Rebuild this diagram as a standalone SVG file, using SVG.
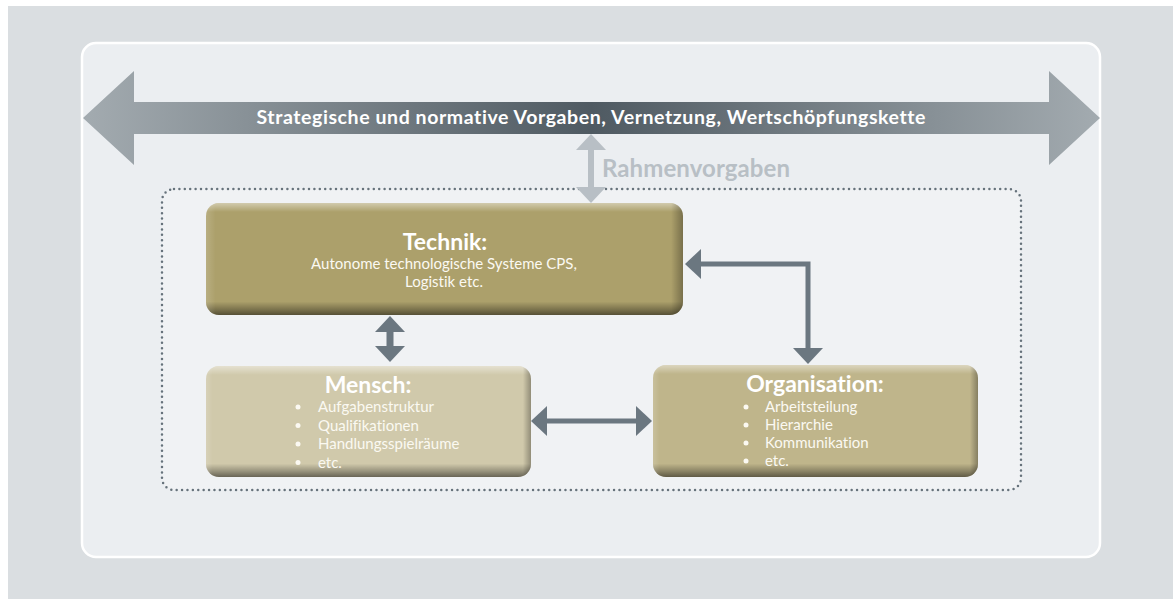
<svg xmlns="http://www.w3.org/2000/svg" width="1173" height="599" viewBox="0 0 1173 599">
  <defs>
    <style>
      text { font-variant-ligatures: none; font-feature-settings: "liga" 0, "dlig" 0; }
      .bg { fill: #dadee1; }
      .panel { fill: #ebeef1; stroke: #ffffff; stroke-width: 2.5; }
      .dotted { fill: #f0f2f4; stroke: #66727b; stroke-width: 2.5; stroke-dasharray: 0 5.4; stroke-linecap: round; }
      .box-bevel { fill: url(#bevelV); }
      .box-side { fill: url(#bevelH); }
      .t-main { font-family: Lato, "Open Sans", sans-serif; font-weight: 700; font-size: 19.5px; fill: #ffffff; text-anchor: middle; }
      .t-rahmen { font-family: Lato, "Open Sans", sans-serif; font-weight: 700; font-size: 24px; fill: #b8bfc5; }
      .t-title { font-family: Lato, "Open Sans", sans-serif; font-weight: 700; font-size: 23px; fill: #ffffff; text-anchor: middle; }
      .t-body { font-family: Lato, "Open Sans", sans-serif; font-weight: 400; font-size: 15px; fill: #fbf9f2; }
      .t-center { text-anchor: middle; }
      .bullet { fill: #fbf9f2; }
      .conn { fill: none; stroke: #6b7780; stroke-width: 5; }
      .conn-light { fill: none; stroke: #b8bfc5; stroke-width: 6; }
    </style>
    <linearGradient id="bigArrow" gradientUnits="userSpaceOnUse" x1="83" y1="0" x2="1100" y2="0">
      <stop offset="0" stop-color="#a3abb0"/>
      <stop offset="0.5" stop-color="#4f5a62"/>
      <stop offset="1" stop-color="#a3abb0"/>
    </linearGradient>
    <linearGradient id="bevelV" x1="0" y1="0" x2="0" y2="1">
      <stop offset="0" stop-color="#ffffff" stop-opacity="0.45"/>
      <stop offset="0.08" stop-color="#ffffff" stop-opacity="0"/>
      <stop offset="0.88" stop-color="#000000" stop-opacity="0"/>
      <stop offset="0.95" stop-color="#000000" stop-opacity="0.28"/>
      <stop offset="1" stop-color="#000000" stop-opacity="0.5"/>
    </linearGradient>
    <linearGradient id="bevelH" x1="0" y1="0" x2="1" y2="0">
      <stop offset="0" stop-color="#ffffff" stop-opacity="0.15"/>
      <stop offset="0.02" stop-color="#ffffff" stop-opacity="0"/>
      <stop offset="0.975" stop-color="#000000" stop-opacity="0"/>
      <stop offset="1" stop-color="#000000" stop-opacity="0.3"/>
    </linearGradient>
    <marker id="headDark" markerUnits="userSpaceOnUse" markerWidth="16" markerHeight="30" refX="0" refY="15" orient="auto-start-reverse" viewBox="0 0 16 30">
      <path d="M0,0 L16,15 L0,30 Z" fill="#6b7780"/>
    </marker>
    <marker id="headLight" markerUnits="userSpaceOnUse" markerWidth="16" markerHeight="30" refX="0" refY="15" orient="auto-start-reverse" viewBox="0 0 16 30">
      <path d="M0,0 L16,15 L0,30 Z" fill="#b8bfc5"/>
    </marker>
  </defs>

  <rect class="bg" x="8" y="6" width="1165" height="593"/>
  <rect class="panel" x="82" y="43" width="1018" height="514" rx="14"/>
  <rect class="dotted" x="162" y="189" width="859" height="301" rx="12"/>

  <g id="big-arrow">
    <polygon points="83,118 134,71 134,102 1049,102 1049,71 1100,118 1049,165 1049,134 134,134 134,165" fill="url(#bigArrow)"/>
    <text class="t-main" x="591" y="124" textLength="669" lengthAdjust="spacing">Strategische und normative Vorgaben, Vernetzung, Wertschöpfungskette</text>
  </g>

  <g id="connectors">
    <path class="conn-light" d="M591,150 V187" marker-start="url(#headLight)" marker-end="url(#headLight)"/>
    <path class="conn" style="stroke-width:7" d="M390,332 V346" marker-start="url(#headDark)" marker-end="url(#headDark)"/>
    <path class="conn" d="M701,264 H808 V348" marker-start="url(#headDark)" marker-end="url(#headDark)"/>
    <path class="conn" d="M547,421 H636" marker-start="url(#headDark)" marker-end="url(#headDark)"/>
  </g>

  <g id="label-rahmen">
    <text class="t-rahmen" x="602" y="177" textLength="188" lengthAdjust="spacing">Rahmenvorgaben</text>
  </g>

  <g id="node-technik">
    <rect x="206" y="203" width="477" height="112" rx="13" fill="#aca06b"/>
    <rect class="box-bevel" x="206" y="203" width="477" height="112" rx="13"/>
    <rect class="box-side" x="206" y="203" width="477" height="112" rx="13"/>
    <text class="t-title" x="445" y="250">Technik:</text>
    <text class="t-body t-center" x="444" y="269">Autonome technologische Systeme CPS,</text>
    <text class="t-body t-center" x="444" y="287">Logistik etc.</text>
  </g>

  <g id="node-mensch">
    <rect x="206" y="366" width="325" height="111" rx="13" fill="#d0c9ab"/>
    <rect class="box-bevel" x="206" y="366" width="325" height="111" rx="13"/>
    <rect class="box-side" x="206" y="366" width="325" height="111" rx="13"/>
    <text class="t-title" x="368" y="393">Mensch:</text>
    <circle class="bullet" cx="298" cy="407" r="2.5"/>
    <circle class="bullet" cx="298" cy="425.5" r="2.5"/>
    <circle class="bullet" cx="298" cy="444" r="2.5"/>
    <circle class="bullet" cx="298" cy="462.5" r="2.5"/>
    <text class="t-body" x="318" y="412">Aufgabenstruktur</text>
    <text class="t-body" x="318" y="430.5">Qualifikationen</text>
    <text class="t-body" x="318" y="449">Handlungsspielräume</text>
    <text class="t-body" x="318" y="467.5">etc.</text>
  </g>

  <g id="node-organisation">
    <rect x="653" y="365" width="325" height="112" rx="13" fill="#bfb58b"/>
    <rect class="box-bevel" x="653" y="365" width="325" height="112" rx="13"/>
    <rect class="box-side" x="653" y="365" width="325" height="112" rx="13"/>
    <text class="t-title" x="815" y="392">Organisation:</text>
    <circle class="bullet" cx="746" cy="407" r="2.5"/>
    <circle class="bullet" cx="746" cy="425" r="2.5"/>
    <circle class="bullet" cx="746" cy="443" r="2.5"/>
    <circle class="bullet" cx="746" cy="461" r="2.5"/>
    <text class="t-body" x="765" y="412">Arbeitsteilung</text>
    <text class="t-body" x="765" y="430">Hierarchie</text>
    <text class="t-body" x="765" y="448">Kommunikation</text>
    <text class="t-body" x="765" y="466">etc.</text>
  </g>
</svg>
